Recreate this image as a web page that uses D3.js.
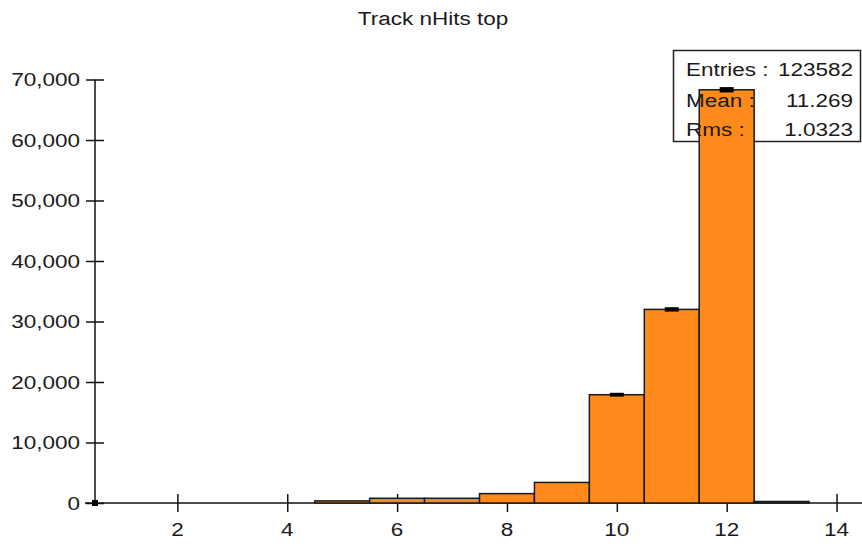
<!DOCTYPE html>
<html><head><meta charset="utf-8">
<script src="https://cdn.jsdelivr.net/npm/d3@7"></script>
<style>body{margin:0;background:#fff}svg{display:block}</style>
</head><body><svg id="c" width="862" height="544"></svg>
<script>
const chartTitle = "Track nHits top";
const binCenters = [5, 6, 7, 8, 9, 10, 11, 12, 13];
const binCounts = [350, 780, 780, 1550, 3400, 17900, 32000, 68300, 250];
const xTickValues = [2, 4, 6, 8, 10, 12, 14];
const yTickValues = [0, 10000, 20000, 30000, 40000, 50000, 60000, 70000];
const statLabels = ["Entries :", "Mean :", "Rms :"];
const statValues = ["123582", "11.269", "1.0323"];

const svg = d3.select("#c");
const FONT = "'Liberation Sans', Arial, sans-serif";
const FS = 18, SX = 1.25;

const x = d3.scaleLinear().domain([0.5, 14.5]).range([95, 864]);
const y = d3.scaleLinear().domain([0, 70000]).range([503, 79.5]);

function stext(g, tx, ty, str, anchor) {
  g.append("g").attr("transform", `translate(${tx},${ty})`)
    .append("text").attr("transform", `scale(${SX},1)`)
    .attr("text-anchor", anchor || "start")
    .attr("font-family", FONT).attr("font-size", FS).attr("fill", "#1a1a1a")
    .text(str);
}

// title
stext(svg, 433, 25, chartTitle, "middle");

// stats box frame (drawn under bars)
svg.append("rect").attr("x", 673.5).attr("y", 50.5).attr("width", 187).attr("height", 91)
  .attr("fill", "#fff").attr("stroke", "#222").attr("stroke-width", 1.5);

// axes
const yAxis = svg.append("g").attr("transform", `translate(${x(0.5)},0)`)
  .call(d3.axisLeft(y).tickValues(yTickValues).tickSize(0).tickFormat(""));
yAxis.select(".domain").remove();
yAxis.append("line").attr("x1", 0).attr("x2", 0).attr("y1", y(70000)).attr("y2", y(0))
  .attr("stroke", "#111").attr("stroke-width", 1.5);
yAxis.selectAll(".tick line").attr("x1", -9).attr("x2", 9).attr("stroke", "#111").attr("stroke-width", 1.5);
yTickValues.forEach(v => stext(svg, 80, y(v) + 6.5, d3.format(",")(v), "end"));

const xAxis = svg.append("g").attr("transform", `translate(0,${y(0)})`)
  .call(d3.axisBottom(x).tickValues(xTickValues).tickSize(0).tickFormat(""));
xAxis.select(".domain").remove();
xAxis.append("line").attr("x1", 85).attr("x2", 862).attr("y1", 0).attr("y2", 0)
  .attr("stroke", "#111").attr("stroke-width", 1.5);
xAxis.selectAll(".tick line").attr("y1", -9).attr("y2", 9).attr("stroke", "#111").attr("stroke-width", 1.5);
xTickValues.forEach(v => stext(svg, x(v), 536, String(v), "middle"));

// bars
const bars = svg.append("g");
binCenters.forEach((c, i) => {
  const v = binCounts[i];
  bars.append("rect")
    .attr("x", x(c - 0.5)).attr("width", x(c + 0.5) - x(c - 0.5))
    .attr("y", y(v)).attr("height", y(0) - y(v))
    .attr("fill", "#FF8A1C").attr("stroke", "#1a1a1a").attr("stroke-width", 1.5);
});
// error bars (only visible when the error span is at least a pixel)
binCenters.forEach((c, i) => {
  const v = binCounts[i], e = Math.sqrt(v);
  const top = y(v + e), bot = y(v - e);
  if (bot - top < 1.0) return;
  const h = (bot - top) + 2.2;
  bars.append("rect").attr("x", x(c) - 7).attr("width", 14)
    .attr("y", (top + bot) / 2 - h / 2).attr("height", h).attr("fill", "#000");
});
// origin marker
svg.append("rect").attr("x", x(0.5) - 3).attr("y", y(0) - 3).attr("width", 6).attr("height", 6).attr("fill", "#000");

// stats text drawn on top of bars
const st = svg.append("g");
const rowY = [76, 107, 136];
statLabels.forEach((l, i) => {
  stext(st, 686, rowY[i], l, "start");
  stext(st, 853, rowY[i], statValues[i], "end");
});
</script></body></html>
